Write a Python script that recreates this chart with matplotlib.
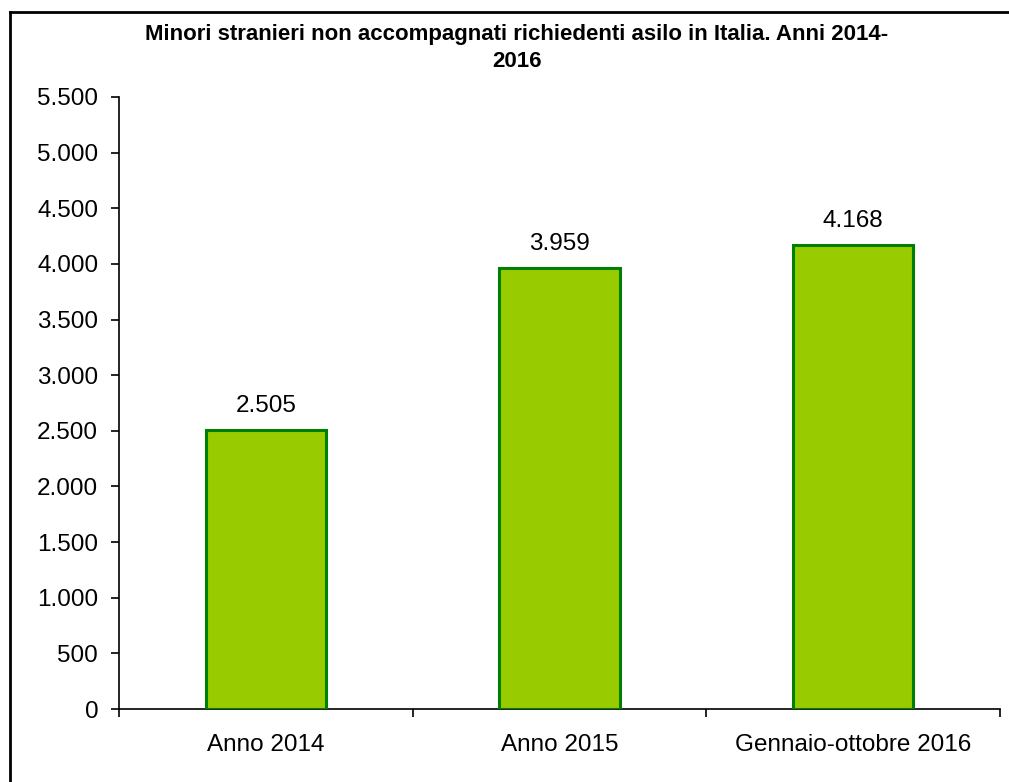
import matplotlib
matplotlib.use("Agg")
import matplotlib.pyplot as plt
from matplotlib.lines import Line2D
from matplotlib.ticker import FuncFormatter, MultipleLocator

categories = ["Anno 2014", "Anno 2015", "Gennaio-ottobre 2016"]
values = [2505, 3959, 4168]
title = "Minori stranieri non accompagnati richiedenti asilo in Italia. Anni 2014-\n2016"

plt.rcParams['font.family'] = ['Liberation Sans', 'DejaVu Sans']

fig = plt.figure(figsize=(10.09, 7.82), dpi=100)
ax = fig.add_axes([0.1179, 0.0933, 0.8732, 0.7827])

x = list(range(len(categories)))
ax.bar(x, values, width=0.41, color="#99CC00", edgecolor="#008000", linewidth=2.2, zorder=3)

def fmt(v):
    return f"{int(v):,}".replace(",", ".")

for xi, v in zip(x, values):
    ax.annotate(fmt(v), (xi, v), xytext=(0, 13), textcoords="offset points",
                ha="center", va="baseline", fontsize=17.5)

ax.set_xlim(-0.5, len(categories) - 0.5)
ax.set_ylim(0, 5500)
ax.yaxis.set_major_locator(MultipleLocator(500))
ax.yaxis.set_major_formatter(FuncFormatter(lambda v, p: fmt(v)))
ax.set_xticks(x)
ax.set_xticklabels(categories, fontsize=17.5)
ax.set_xticks([i - 0.5 for i in range(len(categories) + 1)], minor=True)
ax.tick_params(axis="x", which="major", length=0, pad=18)
ax.tick_params(axis="x", which="minor", length=6, width=1.2, direction="out")
ax.tick_params(axis="y", length=6, width=1.2, direction="out", labelsize=17.5, pad=9)
for s in ["top", "right"]:
    ax.spines[s].set_visible(False)
for s in ["left", "bottom"]:
    ax.spines[s].set_linewidth(1.2)

fig.text(0.5124, 1 - 24 / 782, title, ha="center", va="top", fontsize=16,
         fontweight="bold", linespacing=1.4)

# outer frame (only top and left edges visible in the crop)
fx = 9.5 / 1009
fy = 1 - 12 / 782
fig.add_artist(Line2D([fx, 1.0], [fy, fy], transform=fig.transFigure, color="black", lw=2.0))
fig.add_artist(Line2D([fx, fx], [0.0, fy], transform=fig.transFigure, color="black", lw=2.0))

fig.savefig("out.png", dpi=100)
